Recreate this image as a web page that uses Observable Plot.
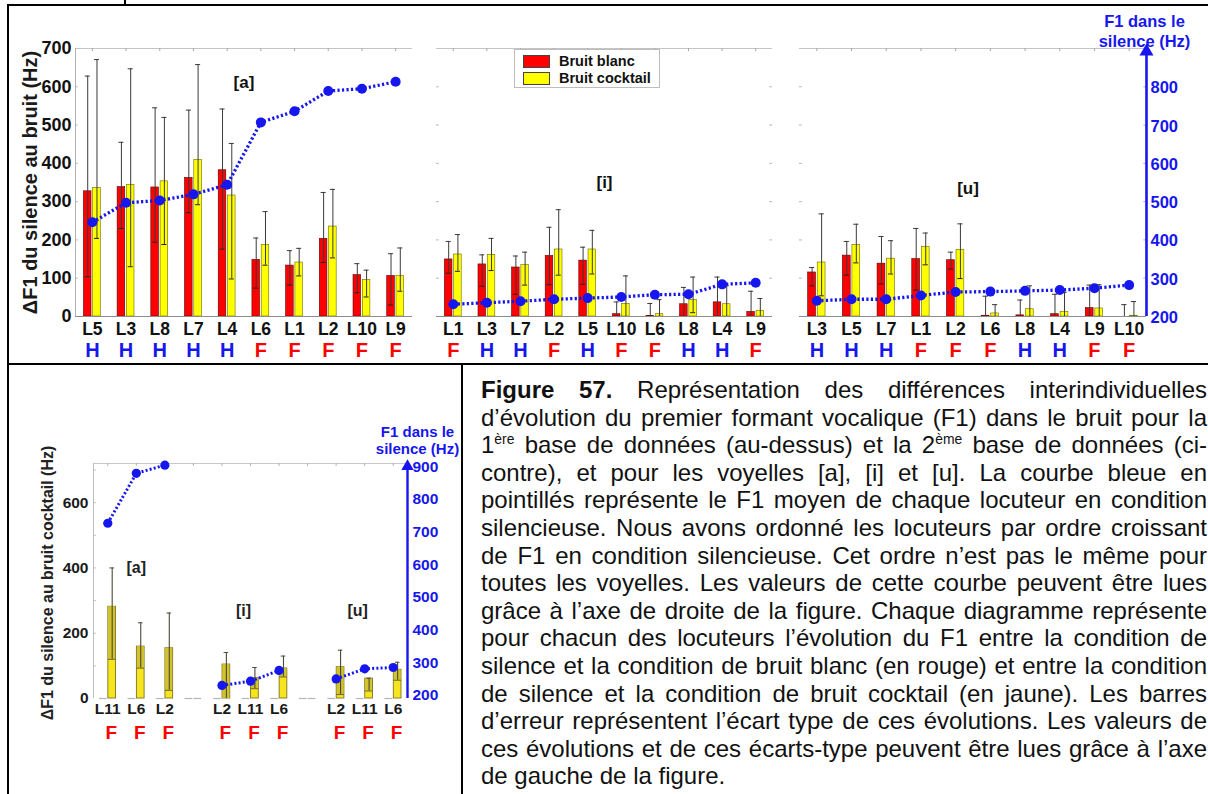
<!DOCTYPE html>
<html><head><meta charset="utf-8">
<script src="https://cdn.jsdelivr.net/npm/d3@7"></script>
<script src="https://cdn.jsdelivr.net/npm/@observablehq/plot@0.6"></script>
<style>
html,body{margin:0;padding:0;background:#fff;}
#root{position:relative;width:1208px;height:794px;overflow:hidden;font-family:'Liberation Sans',Arial,Helvetica,sans-serif;}
.pan{position:absolute;}
.hl{position:absolute;background:#000;}
#legend{position:absolute;left:514px;top:49px;width:144px;height:37px;border:1px solid #bdbdbd;background:#fff;font-weight:bold;font-size:14.5px;color:#111;}
#legend .it{position:absolute;left:8px;height:14px;line-height:14px;}
#legend .sw{display:inline-block;width:25px;height:11px;border:1px solid #444;vertical-align:top;margin-right:9px;margin-top:1px;}
#caption{position:absolute;left:481px;top:376px;width:726px;font-size:24px;line-height:27.6px;color:#111;}
#caption div{white-space:nowrap;text-align:justify;text-align-last:justify;}
#caption div.last{text-align-last:left;}
#caption sup{font-size:0.58em;line-height:0;vertical-align:0.62em;}
</style></head>
<body><div id="root">
<div class="hl" style="left:7px;top:4px;width:1201px;height:2px"></div>
<div class="hl" style="left:124px;top:0;width:2px;height:5px"></div>
<div class="hl" style="left:7px;top:4px;width:2px;height:790px"></div>
<div class="hl" style="left:7px;top:363px;width:1201px;height:2px"></div>
<div class="hl" style="left:461px;top:363px;width:2px;height:431px"></div>
<div id="caption">
<div><b>Figure 57.</b> Représentation des différences interindividuelles</div>
<div>d’évolution du premier formant vocalique (F1) dans le bruit pour la</div>
<div>1<sup>ère</sup> base de données (au-dessus) et la 2<sup>ème</sup> base de données (ci-</div>
<div>contre), et pour les voyelles [a], [i] et [u]. La courbe bleue en</div>
<div>pointillés représente le F1 moyen de chaque locuteur en condition</div>
<div>silencieuse. Nous avons ordonné les locuteurs par ordre croissant</div>
<div>de F1 en condition silencieuse. Cet ordre n’est pas le même pour</div>
<div>toutes les voyelles. Les valeurs de cette courbe peuvent être lues</div>
<div>grâce à l’axe de droite de la figure. Chaque diagramme représente</div>
<div>pour chacun des locuteurs l’évolution du F1 entre la condition de</div>
<div>silence et la condition de bruit blanc (en rouge) et entre la condition</div>
<div>de silence et la condition de bruit cocktail (en jaune). Les barres</div>
<div>d’erreur représentent l’écart type de ces évolutions. Les valeurs de</div>
<div>ces évolutions et de ces écarts-type peuvent être lues grâce à l’axe</div>
<div class="last">de gauche de la figure.</div>
</div>
</div>
<script>
// ===== DATA: 1st database (top) =====
const speakersA = ["L5","L3","L8","L7","L4","L6","L1","L2","L10","L9"];
const sexA      = ["H","H","H","H","H","F","F","F","F","F"];
const blancA    = [327,338,337,362,382,148,133,203,108,106];
const blancLoA  = [104,230,194,271,176,74,82,141,62,30];
const blancHiA  = [628,455,545,539,542,205,172,324,138,164];
const cockA     = [336,344,353,409,316,187,141,235,95,106];
const cockLoA   = [204,130,188,292,98,134,106,153,51,66];
const cockHiA   = [671,647,520,658,452,274,178,332,121,179];
const f1A       = [449,500,506,522,547,710,739,792,798,816];

const speakersI = ["L1","L3","L7","L2","L5","L10","L6","L8","L4","L9"];
const sexI      = ["F","H","H","F","H","F","F","H","H","F"];
const blancI    = [149,136,128,158,146,6,1,32,37,12];
const blancLoI  = [113,79,58,83,84,0,0,0,0,0];
const blancHiI  = [196,161,158,233,181,38,34,76,103,66];
const cockI     = [162,161,134,175,175,33,6,43,32,15];
const cockLoI   = [118,120,82,108,111,0,0,10,0,0];
const cockHiI   = [214,204,168,279,225,106,44,103,80,47];
const f1I       = [235,239,243,248,251,254,260,261,287,291];

const speakersU = ["L3","L5","L7","L1","L2","L6","L8","L4","L9","L10"];
const sexU      = ["H","H","H","F","F","F","H","H","F","F"];
const blancU    = [115,159,138,150,147,2,3,6,22,0];
const blancLoU  = [80,108,85,69,124,0,0,0,0,0];
const blancHiU  = [128,196,209,230,168,53,43,58,82,31];
const cockU     = [141,187,151,182,174,8,19,12,21,2];
const cockLoU   = [54,140,111,135,99,0,0,0,0,0];
const cockHiU   = [268,241,198,218,242,31,80,63,83,39];
const f1U       = [244,248,248,258,267,268,270,272,277,285];

const leftTicksTop  = [0,100,200,300,400,500,600,700];
const rightTicksTop = [200,300,400,500,600,700,800];

// ===== DATA: 2nd database (bottom) =====
const vowelsB   = ["[a]","[i]","[u]"];
const speakersB = [["L11","L6","L2"],["L2","L11","L6"],["L2","L11","L6"]];
const sexB      = [["F","F","F"],["F","F","F"],["F","F","F"]];
const cockB     = [[281,159,154],[104,63,92],[96,61,88]];
const cockLoB   = [[120,93,25],[0,30,66],[12,23,56]];
const cockHiB   = [[400,232,262],[141,95,130],[148,62,111]];
const f1B       = [[727,880,905],[230,243,276],[250,281,285]];
const leftTicksBot  = [0,200,400,600];
const rightTicksBot = [200,300,400,500,600,700,800,900];

// ===== STYLE =====
const BLUE = "#1616ee", RED = "#ff0000", YEL = "#ffff00", INK = "#111";
const FONT = "'Liberation Sans', Arial, Helvetica, sans-serif";
const OFF_TOP = 203, OFF_BOT = 190;   // right (F1) axis offset w.r.t. left axis units

const root = document.getElementById("root");
function place(svg, left, top) {
  svg.classList.add("pan");
  svg.style.left = left + "px";
  svg.style.top = top + "px";
  root.appendChild(svg);
}

function topPanel(cfg) {
  const rows = cfg.names.map((name, k) => ({
    i: k + 1, name, sex: cfg.sexes[k],
    b: cfg.blanc[k], bLo: cfg.blancLo[k], bHi: cfg.blancHi[k],
    c: cfg.cock[k], cLo: cfg.cockLo[k], cHi: cfg.cockHi[k], f1: cfg.f1[k]
  }));
  const idx = rows.map(d => d.i);
  const n = rows.length;
  const W = 0.225, G = 0.025, ex = G + W / 2, cap = 0.075;
  const marks = [
    Plot.ruleY([700], {x1: 0.5, x2: n + 0.5, stroke: "#c4c4c4"}),
    Plot.ruleX(idx, {x: d => d, y1: 700, y2: 692, stroke: "#a8a8a8"}),
  ];
  if (cfg.leftAxis) {
    marks.push(Plot.ruleX([0.5], {y1: 0, y2: 700, stroke: "#b4b4b4"}));
    marks.push(Plot.axisY(leftTicksTop, {anchor: "left", tickSize: 0, tickPadding: 4, fontSize: 18, fontWeight: "bold", fill: INK, label: null}));
    marks.push(Plot.text(["ΔF1 du silence au bruit (Hz)"], {text: d => d, frameAnchor: "left", textAnchor: "middle", dx: -45, rotate: -90, fontSize: 20, fontWeight: "bold", fill: "#1a1a1a"}));
  }
  marks.push(Plot.ruleY(leftTicksTop.slice(1, -1), {x1: 0.5, x2: 0.58, stroke: "#b4b4b4"}));
  if (!cfg.leftAxis) marks.push(Plot.ruleY(leftTicksTop.slice(1, -1), {x1: n + 0.42, x2: n + 0.5, stroke: "#b4b4b4"}));
  marks.push(
    Plot.rectY(rows, {x1: d => d.i - G - W, x2: d => d.i - G, y: "b", fill: RED, stroke: "#5a0000", strokeWidth: 0.6}),
    Plot.rectY(rows, {x1: d => d.i + G, x2: d => d.i + G + W, y: "c", fill: YEL, stroke: "#6a6a00", strokeWidth: 0.6}),
    Plot.ruleX(rows, {x: d => d.i - ex, y1: "bLo", y2: "bHi", stroke: "#3a3a3a", strokeWidth: 1}),
    Plot.ruleX(rows, {x: d => d.i + ex, y1: "cLo", y2: "cHi", stroke: "#3a3a3a", strokeWidth: 1}),
    Plot.ruleY(rows, {y: "bHi", x1: d => d.i - ex - cap, x2: d => d.i - ex + cap, stroke: "#3a3a3a"}),
    Plot.ruleY(rows, {y: "cHi", x1: d => d.i + ex - cap, x2: d => d.i + ex + cap, stroke: "#3a3a3a"}),
    Plot.ruleY(rows, {filter: d => d.bLo > 0, y: "bLo", x1: d => d.i - ex - cap, x2: d => d.i - ex + cap, stroke: "#222"}),
    Plot.ruleY(rows, {filter: d => d.cLo > 0, y: "cLo", x1: d => d.i + ex - cap, x2: d => d.i + ex + cap, stroke: "#222"}),
    Plot.ruleY([0], {x1: 0.5, x2: n + 0.5, stroke: "#8c8c8c"}),
    Plot.line(rows, {x: "i", y: d => d.f1 - OFF_TOP, stroke: BLUE, strokeWidth: 3.3, strokeDasharray: "2.2,2.3", strokeLinecap: "butt"}),
    Plot.dot(rows, {x: "i", y: d => d.f1 - OFF_TOP, r: 5, fill: BLUE, stroke: "none"}),
    Plot.axisX(idx, {anchor: "bottom", tickSize: 0, tickPadding: 6, tickFormat: i => rows[i - 1].name, fontSize: 17.5, fontWeight: "bold", fill: INK, label: null}),
    Plot.text(rows, {filter: d => d.sex === "H", x: "i", text: "sex", frameAnchor: "bottom", dy: 40, fill: BLUE, fontSize: 20, fontWeight: "bold"}),
    Plot.text(rows, {filter: d => d.sex === "F", x: "i", text: "sex", frameAnchor: "bottom", dy: 40, fill: RED, fontSize: 20, fontWeight: "bold"}),
    Plot.text([cfg.label], {text: d => d, frameAnchor: cfg.labelAnchor, dx: cfg.labelDx, dy: cfg.labelDy, fontSize: 17, fontWeight: "bold", fill: INK})
  );
  if (cfg.rightAxis) {
    marks.push(
      Plot.ruleX([n + 0.5], {y1: 0, y2: 690, stroke: BLUE, strokeWidth: 2.6}),
      Plot.dot([700], {x: n + 0.5, y: d => d - 8, symbol: "triangle", r: 5.2, fill: BLUE, stroke: "none"}),
      Plot.axisY(rightTicksTop.map(v => v - OFF_TOP), {anchor: "right", tickSize: 0, tickPadding: 4, tickFormat: d => d + OFF_TOP, fill: BLUE, fontSize: 16.5, fontWeight: "bold", label: null}),
      Plot.text(["F1 dans le\nsilence (Hz)"], {text: d => d, frameAnchor: "top-right", dx: -2, dy: -2, textAnchor: "middle", lineAnchor: "bottom", lineHeight: 1.2, fill: BLUE, fontSize: 16.5, fontWeight: "bold"})
    );
  } else if (!cfg.leftAxis) {
    marks.push(Plot.axisY([], {label: null}));
  }
  const svg = Plot.plot({
    width: cfg.width, height: 365,
    marginLeft: cfg.mL, marginRight: cfg.mR, marginTop: 48, marginBottom: 49,
    x: {type: "linear", domain: [0.5, n + 0.5]},
    y: {domain: [0, 700]},
    style: {fontFamily: FONT, background: "transparent", overflow: "visible"},
    marks
  });
  place(svg, cfg.left, 0);
}

topPanel({names: speakersA, sexes: sexA, blanc: blancA, blancLo: blancLoA, blancHi: blancHiA, cock: cockA, cockLo: cockLoA, cockHi: cockHiA, f1: f1A,
  left: 0, width: 430, mL: 75, mR: 18, label: "[a]", labelAnchor: "top", labelDx: 0, labelDy: 27, leftAxis: true});
topPanel({names: speakersI, sexes: sexI, blanc: blancI, blancLo: blancLoI, blancHi: blancHiI, cock: cockI, cockLo: cockLoI, cockHi: cockHiI, f1: f1I,
  left: 420, width: 360, mL: 16, mR: 8, label: "[i]", labelAnchor: "middle", labelDx: 0, labelDy: 0});
topPanel({names: speakersU, sexes: sexU, blanc: blancU, blancLo: blancLoU, blancHi: blancHiU, cock: cockU, cockLo: cockLoU, cockHi: cockHiU, f1: f1U,
  left: 780, width: 428, mL: 19, mR: 62, label: "[u]", labelAnchor: "middle", labelDx: -5, labelDy: 6, rightAxis: true});

// legend (HTML)
const lg = document.createElement("div");
lg.id = "legend";
lg.innerHTML = `<div class="it" style="top:4px"><span class="sw" style="background:${RED}"></span>Bruit blanc</div>
<div class="it" style="top:21px"><span class="sw" style="background:${YEL}"></span>Bruit cocktail</div>`;
root.appendChild(lg);

// ===== bottom chart =====
(function bottom() {
  const rows = [];
  vowelsB.forEach((v, g) => speakersB[g].forEach((name, k) => rows.push({
    g, vowel: v, slot: g * 4 + k + 1, name, sex: sexB[g][k],
    c: cockB[g][k], lo: cockLoB[g][k], hi: cockHiB[g][k], f1: f1B[g][k]
  })));
  const nSlots = d3.max(rows, d => d.slot);
  const allSlots = d3.range(1, nSlots + 1);
  const emptySlots = allSlots.filter(s => !rows.some(d => d.slot === s));
  const W = 0.27, G = 0.02, ex = G + W / 2, cap = 0.08;
  const groupMid = vowelsB.map((v, g) => ({v, slot: d3.mean(rows.filter(d => d.g === g), d => d.slot)}));
  const marks = [
    Plot.ruleY([720], {x1: 0.5, x2: nSlots + 0.5, stroke: "#c8c8c8"}),
    Plot.ruleX(allSlots, {x: d => d, y1: 720, y2: 711, stroke: "#b0b0b0"}),
    Plot.ruleX([0.5], {y1: 0, y2: 720, stroke: "#bdbdbd"}),
    Plot.ruleY(d3.range(100, 720, 100), {x1: 0.5, x2: 0.6, stroke: "#bdbdbd"}),
    Plot.axisY(leftTicksBot, {anchor: "left", tickSize: 0, tickPadding: 5, fontSize: 15.5, fontWeight: "bold", fill: "#1a1a1a", label: null}),
    Plot.text(["ΔF1 du silence au bruit cocktail (Hz)"], {text: d => d, frameAnchor: "left", textAnchor: "middle", dx: -46, dy: 2, rotate: -90, fontSize: 16, fontWeight: "bold", fill: "#222"}),
    Plot.ruleY(allSlots, {y: 0, x1: s => s - G - W, x2: s => s - G, stroke: "#b5b5b5", strokeWidth: 1.2}),
    Plot.ruleY(emptySlots, {y: 0, x1: s => s + G, x2: s => s + G + W, stroke: "#b5b5b5", strokeWidth: 1.2}),
    Plot.rectY(rows, {x1: d => d.slot + G, x2: d => d.slot + G + W, y: "c", fill: "#f6e51c", stroke: "#7d7424", strokeWidth: 0.9}),
    Plot.rectY(rows, {filter: d => d.lo < d.c, x1: d => d.slot + G + 0.02, x2: d => d.slot + G + W - 0.02, y1: "lo", y2: d => Math.min(d.c, d.hi), fill: "#d2c22c"}),
    Plot.ruleX(rows, {x: d => d.slot + ex, y1: "lo", y2: "hi", stroke: "#4a4a3a", strokeWidth: 1.1}),
    Plot.ruleY(rows, {filter: d => d.hi > d.c, y: "hi", x1: d => d.slot + ex - cap, x2: d => d.slot + ex + cap, stroke: "#4a4a3a"}),
    Plot.ruleY(rows, {filter: d => d.lo > 0, y: "lo", x1: d => d.slot + G, x2: d => d.slot + G + W, stroke: "#6b6330"}),
    Plot.line(rows, {x: "slot", y: d => d.f1 - OFF_BOT, z: "g", stroke: BLUE, strokeWidth: 3, strokeDasharray: "2,2.2", strokeLinecap: "butt"}),
    Plot.dot(rows, {x: "slot", y: d => d.f1 - OFF_BOT, r: 4.6, fill: BLUE, stroke: "none"}),
    Plot.ruleX([nSlots + 0.5], {y1: 0, y2: 706, stroke: BLUE, strokeWidth: 2.4}),
    Plot.dot([720], {x: nSlots + 0.5, y: d => d - 9, symbol: "triangle", r: 4.6, fill: BLUE, stroke: "none"}),
    Plot.axisY(rightTicksBot.map(v => v - OFF_BOT), {anchor: "right", tickSize: 0, tickPadding: 5, tickFormat: d => d + OFF_BOT, fill: BLUE, fontSize: 15.5, fontWeight: "bold", label: null}),
    Plot.text(["F1 dans le\nsilence (Hz)"], {text: d => d, frameAnchor: "top-right", dx: 10, dy: -10, textAnchor: "middle", lineAnchor: "bottom", lineHeight: 1.1, fill: BLUE, fontSize: 15, fontWeight: "bold"}),
    Plot.axisX(rows.map(d => d.slot), {anchor: "bottom", tickSize: 0, tickPadding: 4, tickFormat: s => rows.find(d => d.slot === s).name, fontSize: 15.5, fontWeight: "bold", fill: "#1a1a1a", label: null}),
    Plot.text(rows, {x: d => d.slot + 0.12, text: "sex", frameAnchor: "bottom", dy: 40, fill: d => d.sex === "H" ? BLUE : RED, fontSize: 19, fontWeight: "bold"}),
    Plot.text(groupMid.filter((d, g) => g === 0), {x: "slot", y: () => 400, text: "v", fontSize: 16, fontWeight: "bold", fill: "#222"}),
    Plot.text(groupMid.filter((d, g) => g > 0), {x: "slot", y: () => 268, dx: -7, text: "v", fontSize: 16, fontWeight: "bold", fill: "#222"})
  ];
  const svg = Plot.plot({
    width: 462, height: 428,
    marginLeft: 93, marginRight: 55, marginTop: 97, marginBottom: 96,
    x: {type: "linear", domain: [0.5, nSlots + 0.5]},
    y: {domain: [0, 720]},
    color: {type: "identity"},
    style: {fontFamily: FONT, background: "transparent", overflow: "visible"},
    marks
  });
  place(svg, 0, 366);
})();
</script>
</body></html>
